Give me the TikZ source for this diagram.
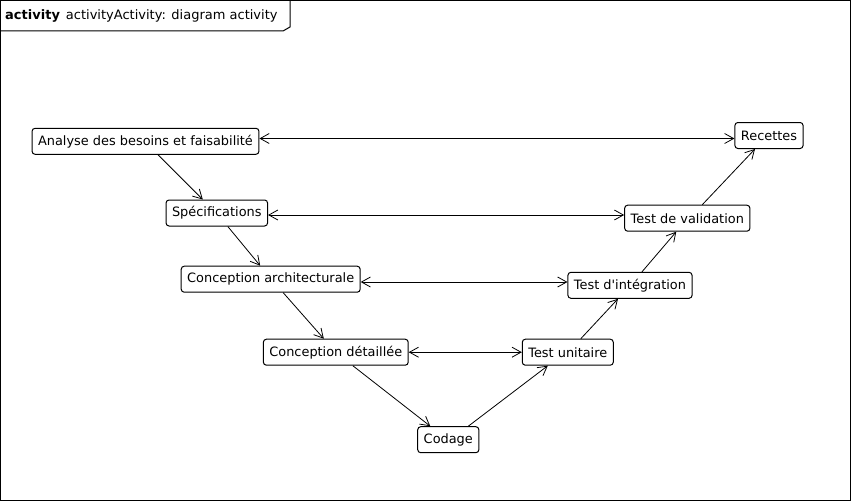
\documentclass[tikz,border=0pt]{standalone}
\usepackage{fontspec}
\setmainfont{DejaVu Sans}
\usepackage{tikz}
\usetikzlibrary{positioning,arrows.meta}
\tikzset{
  actbox/.style={rounded corners=3pt, draw=black, fill=white, line width=1pt,
    minimum height=26pt, inner xsep=6pt, inner ysep=0pt, font=\fontsize{12.9}{15}\selectfont},
  actarrow/.style={-{Straight Barb[length=9pt,width=10pt]}, line width=0.8pt},
  actboth/.style={{Straight Barb[length=9pt,width=10pt]}-{Straight Barb[length=9pt,width=10pt]}, line width=0.8pt}
}

\begin{document}
\begin{tikzpicture}[x=1pt,y=-1pt]
    \useasboundingbox (0,0) rectangle (854,503);
    % frame and title tab
    \draw[line width=1pt] (0.5,0.5) rectangle (850.5,500.5);
    \draw[line width=1pt] (290,0.5) -- (290,27) -- (283,31) -- (0.5,31);
    \node[anchor=west, inner sep=0pt, font=\fontsize{13}{15}\selectfont] (title) at (5,16)
      {\textbf{activity}\hspace{6pt}activityActivity: diagram activity};

    \node[actbox] (anal) at (145.5,141.3) {Analyse des besoins et faisabilité};
    \node[actbox] (spec) at (216.8,213) {Spécifications};
    \node[actbox] (arch) at (270.7,279.2) {Conception architecturale};
    \node[actbox] (det) at (335.8,352.2) {Conception détaillée};
    \node[actbox] (cod) at (448.3,439.7) {Codage};
    \node[actbox] (tu) at (567.8,352.2) {Test unitaire};
    \node[actbox] (integ) at (630,285.3) {Test d\textquotesingle intégration};
    \node[actbox] (valid) at (687.3,218.2) {Test de validation};
    \node[actbox] (rec) at (769,135.5) {Recettes};

    \draw[actarrow] ([xshift=12.5pt]anal.south) -- ([xshift=-14pt]spec.north);
    \draw[actarrow] ([xshift=11pt]spec.south) -- ([xshift=-10.5pt]arch.north);
    \draw[actarrow] ([xshift=12.5pt]arch.south) -- ([xshift=-12pt]det.north);
    \draw[actarrow] ([xshift=17pt]det.south) -- ([xshift=-18pt]cod.north);
    \draw[actarrow] ([xshift=20pt]cod.north) -- ([xshift=-20pt]tu.south);
    \draw[actarrow] ([xshift=13pt]tu.north) -- ([xshift=-12pt]integ.south);
    \draw[actarrow] ([xshift=12pt]integ.north) -- ([xshift=-11pt]valid.south);
    \draw[actarrow] ([xshift=15pt]valid.north) -- ([xshift=-14pt]rec.south);

    \draw[actboth] ([yshift=2.8pt]anal.east) -- ([yshift=2.8pt]anal.east -| rec.west);
    \draw[actboth] ([yshift=-2pt]spec.east) -- ([yshift=-2pt]spec.east -| valid.west);
    \draw[actboth] ([yshift=-2.8pt]arch.east) -- ([yshift=-2.8pt]arch.east -| integ.west);
    \draw[actboth] (det.east) -- (tu.west);
  \end{tikzpicture}
\end{document}
